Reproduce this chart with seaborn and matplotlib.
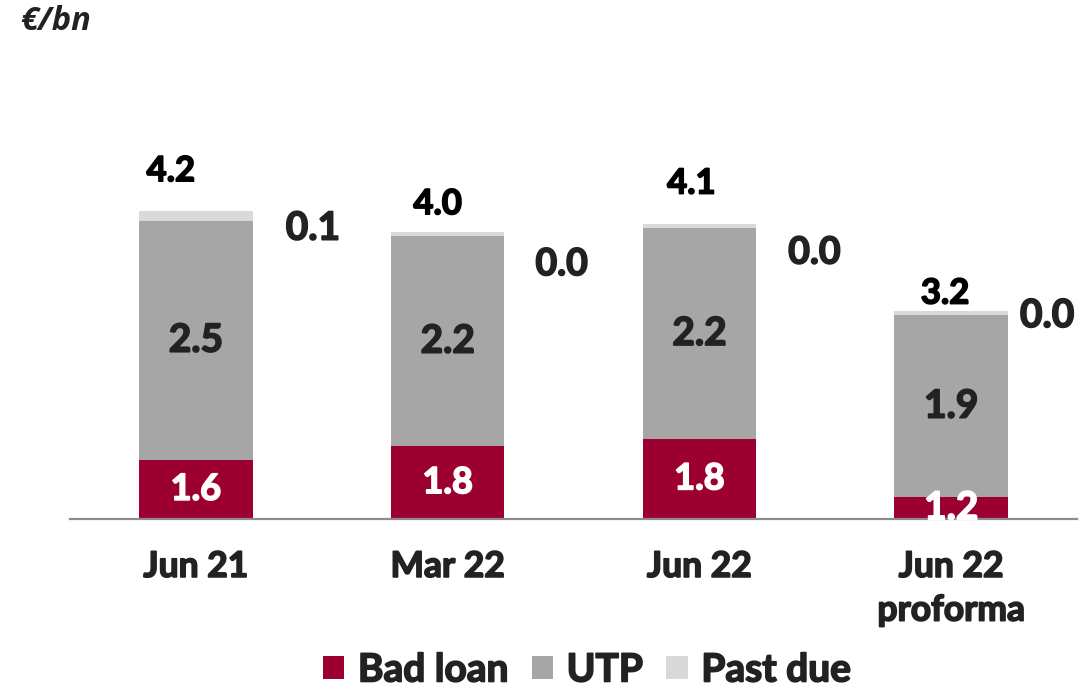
import matplotlib
matplotlib.use("Agg")
import matplotlib.pyplot as plt
import matplotlib.patheffects as pe
from matplotlib.patches import Patch
import seaborn as sns
import pandas as pd
import numpy as np

# ---------------- data ----------------
categories = ["Jun 21", "Mar 22", "Jun 22", "Jun 22\nproforma"]
bad_loan = [1.6, 1.8, 1.8, 1.2]          # labelled values
utp = [2.5, 2.2, 2.2, 1.9]
past_due = [0.1, 0.0, 0.0, 0.0]
totals = [4.2, 4.0, 4.1, 3.2]
# heights as drawn in the source chart (segments not drawn to label scale)
bad_loan_drawn = [0.62, 0.76, 0.84, 0.23]
past_due_drawn = [0.10, 0.04, 0.05, 0.05]
series_names = ["Bad loan", "UTP", "Past due"]

# ---------------- style ----------------
sns.set_theme(style="white")
plt.rcParams["font.family"] = ["Lato", "DejaVu Sans"]
C_BAD, C_UTP, C_PD = "#9B0030", "#A6A6A6", "#D9D9D9"
TXT = "#222222"
W = "bold"


def heavy(color, lw=1.2):
    return [pe.withStroke(linewidth=lw, foreground=color)]


# per-label layout (pixels) and sizes
total_off = [(-25, 40), (-10, 28), (-8, 40), (-6, 17)]
total_size = [25, 25, 25, 25]
pd_off = [(117, -17), (114, -32), (115, -29), (96, -5)]
pd_size = [28, 27, 27, 28]
bad_size = [26, 26, 26, 28]
utp_size = [28, 28, 28, 28]

fig = plt.figure(figsize=(10.91, 6.9), dpi=100)
ax = fig.add_axes([70 / 1091, 1 - 519 / 690, (1077 - 70) / 1091, 519 / 690])

df = pd.DataFrame({
    "cat": categories,
    "bad": bad_loan_drawn,
    "utp": utp,
    "pd": past_due_drawn,
})
df["lvl2"] = df["bad"] + df["utp"]
df["lvl3"] = df["lvl2"] + df["pd"]

bw = 0.45
sns.barplot(data=df, x="cat", y="lvl3", color=C_PD, width=bw, ax=ax,
            saturation=1, linewidth=0, order=categories)
sns.barplot(data=df, x="cat", y="lvl2", color=C_UTP, width=bw, ax=ax,
            saturation=1, linewidth=0, order=categories)
sns.barplot(data=df, x="cat", y="bad", color=C_BAD, width=bw, ax=ax,
            saturation=1, linewidth=0, order=categories)

ax.set_xlim(-0.5, 3.5)
ax.set_ylim(0, 519 / 95.6)
ax.set_xlabel("")
ax.set_ylabel("")
ax.set_yticks([])
for s in ["top", "right", "left"]:
    ax.spines[s].set_visible(False)
ax.spines["bottom"].set_color("#8C8C8C")
ax.spines["bottom"].set_linewidth(1.6)

ax.set_xticks(range(len(categories)))
ax.set_xticklabels(categories, fontsize=25.5, fontweight=W, color=TXT,
                   linespacing=1.45)
for t in ax.get_xticklabels():
    t.set_path_effects(heavy(TXT))
ax.tick_params(axis="x", which="major", length=0, pad=23)
ax.set_xticks(np.arange(-0.5, len(categories), 1.0), minor=True)
ax.tick_params(axis="x", which="minor", length=9, width=1.6,
               color="#8C8C8C", direction="out")

for i in range(len(categories)):
    b = df["bad"][i]
    u2 = df["lvl2"][i]
    top = df["lvl3"][i]
    ax.text(i, b / 2, f"{bad_loan[i]:.1f}", ha="center", va="center",
            color="white", fontsize=bad_size[i], fontweight=W,
            path_effects=heavy("white"))
    ax.text(i, (b + u2) / 2, f"{utp[i]:.1f}", ha="center", va="center",
            color=TXT, fontsize=utp_size[i], fontweight=W,
            path_effects=heavy(TXT))
    ax.annotate(f"{totals[i]:.1f}", xy=(i, top), xytext=total_off[i],
                textcoords="offset pixels", ha="center", va="center",
                color="black", fontsize=total_size[i], fontweight=W,
                path_effects=heavy("black"))
    ax.annotate(f"{past_due[i]:.1f}", xy=(i, top), xytext=pd_off[i],
                textcoords="offset pixels", ha="center", va="center",
                color=TXT, fontsize=pd_size[i], fontweight=W,
                path_effects=heavy(TXT))

fig.text(20 / 1091, 1 - 22 / 690, "€/bn", ha="left", va="center",
         fontsize=23.5, fontweight="bold", fontstyle="italic",
         family=["Open Sans", "DejaVu Sans"], color=TXT)

handles = [Patch(facecolor=c, edgecolor="none") for c in (C_BAD, C_UTP, C_PD)]
leg = fig.legend(handles, series_names, loc="center",
                 bbox_to_anchor=(587 / 1091, 1 - 670 / 690), ncol=3,
                 frameon=False, handlelength=0.55, handleheight=0.55,
                 handletextpad=0.35, columnspacing=0.6,
                 prop={"family": ["Lato", "DejaVu Sans"], "weight": W,
                       "size": 28})
for t in leg.get_texts():
    t.set_color(TXT)
    t.set_path_effects(heavy(TXT))

fig.savefig("out.png", dpi=100)
